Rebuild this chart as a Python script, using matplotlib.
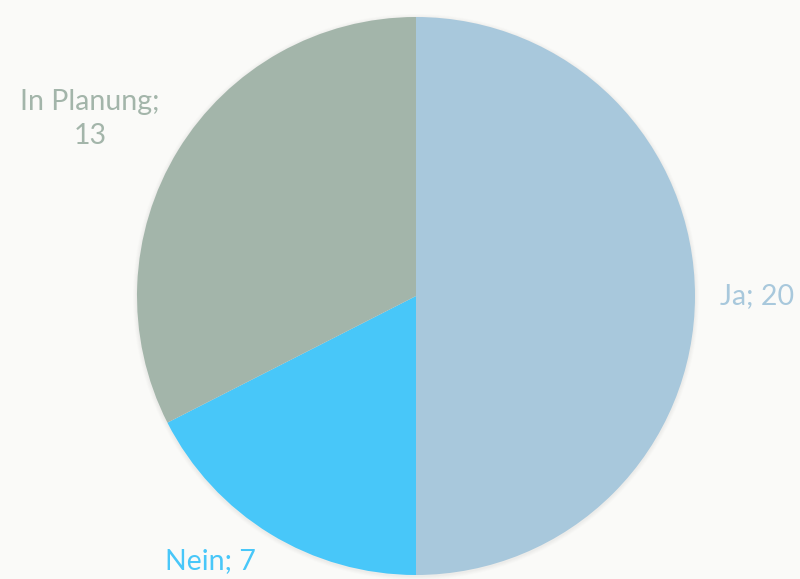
import matplotlib
matplotlib.use("Agg")
import matplotlib.pyplot as plt
from matplotlib.patches import Circle

categories = ["Ja", "Nein", "In Planung"]
values = [20, 7, 13]
colors = ["#A8C8DC", "#48C7F9", "#A3B5AA"]

plt.rcParams['font.family'] = ['Lato', 'DejaVu Sans']

fig = plt.figure(figsize=(8, 5.79), dpi=100)
fig.patch.set_facecolor("#FAFAF8")
ax = fig.add_axes([0, 0, 1, 1])
ax.set_facecolor("#FAFAF8")

cx, cy, r = 416, 283, 279

# soft shadow
for i, a in enumerate([0.02, 0.025, 0.03, 0.035]):
    ax.add_patch(Circle((cx, cy - 1), r + 4 - i, color="#888888", alpha=a, lw=0, zorder=1))

wedges, _ = ax.pie(values, colors=colors, startangle=90, counterclock=False,
                   center=(cx, cy), radius=r, frame=True,
                   wedgeprops=dict(linewidth=0, zorder=2))
ax.set_xlim(0, 800)
ax.set_ylim(0, 579)
ax.set_aspect("equal")
ax.axis("off")

label_pos = {"Ja": (757, 283), "Nein": (210, 18), "In Planung": (90, 460)}
for cat, v, c in zip(categories, values, colors):
    x, y = label_pos[cat]
    txt = f"{cat}; {v}" if cat != "In Planung" else f"{cat};\n{v}"
    ax.text(x, y, txt, color=c, fontsize=20.5, ha="center", va="center",
            linespacing=1.38, zorder=3)

fig.savefig("out.png", dpi=100, facecolor=fig.get_facecolor())
